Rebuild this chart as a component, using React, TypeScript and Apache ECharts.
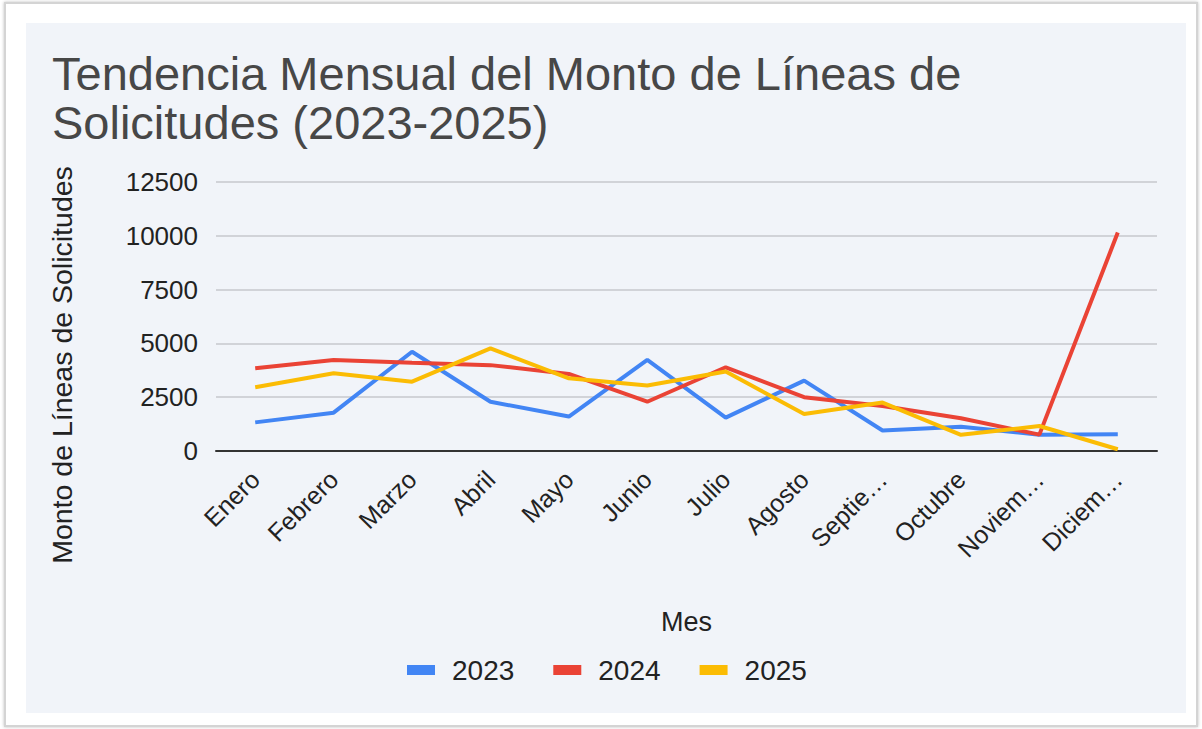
import React, { useEffect, useRef } from "react";
import * as echarts from "echarts";

const months = [
  "Enero", "Febrero", "Marzo", "Abril", "Mayo", "Junio",
  "Julio", "Agosto", "Septiembre", "Octubre", "Noviembre", "Diciembre",
];
const yearNames = ["2023", "2024", "2025"];
const values2023 = [1330, 1780, 4610, 2290, 1600, 4230, 1550, 3270, 950, 1130, 760, 780];
const values2024 = [3840, 4230, 4100, 3990, 3580, 2290, 3890, 2500, 2090, 1520, 760, 10150];
const values2025 = [2960, 3610, 3220, 4770, 3380, 3040, 3690, 1720, 2250, 750, 1160, 80];
const yTicks = { min: 0, max: 12500, interval: 2500 };
const colors = ["#4285F4", "#EA4335", "#FBBC04"];

const FONT = "'Liberation Sans', Arial, Helvetica, sans-serif";

export default function App() {
  const ref = useRef<HTMLDivElement>(null);

  useEffect(() => {
    if (!ref.current) return;
    const chart = echarts.init(ref.current, null, { renderer: "svg" });
    const seriesData = [values2023, values2024, values2025];
    chart.setOption({
      animation: false,
      backgroundColor: "transparent",
      title: {
        text: "Tendencia Mensual del Monto de Líneas de\nSolicitudes (2023-2025)",
        left: 47,
        top: 44,
        textStyle: {
          fontFamily: FONT,
          fontSize: 47,
          fontWeight: "normal",
          color: "#474747",
          lineHeight: 49,
        },
      },
      graphic: [
        {
          type: "text",
          x: 62,
          y: 365,
          rotation: Math.PI / 2,
          style: {
            text: "Monto de Líneas de Solicitudes",
            font: `28.5px ${FONT}`,
            fill: "#222222",
            align: "center",
            verticalAlign: "middle",
          },
        },
      ],
      legend: {
        data: yearNames.map((n) => ({ name: n, icon: "rect" })),
        top: 651,
        left: 402,
        itemWidth: 28,
        itemHeight: 10,
        itemGap: 39,
        itemStyle: { borderWidth: 0 },
        lineStyle: { width: 0, opacity: 0 },
        textStyle: { fontFamily: FONT, fontSize: 28, color: "#222222", padding: [0, 0, 0, 12] },
      },
      grid: { left: 216, right: 45, top: 182, bottom: 278 },
      xAxis: {
        type: "category",
        data: months,
        boundaryGap: true,
        name: "Mes",
        nameLocation: "middle",
        nameGap: 157,
        nameTextStyle: { fontFamily: FONT, fontSize: 27, color: "#222222" },
        axisLine: { lineStyle: { color: "#333333", width: 2 } },
        axisTick: { show: false },
        axisLabel: {
          rotate: 45,
          interval: 0,
          margin: 24,
          fontFamily: FONT,
          fontSize: 25,
          color: "#222222",
          formatter: (v: string) => (v.length > 7 ? v.slice(0, 6) + "…" : v),
        },
      },
      yAxis: {
        type: "value",
        min: yTicks.min,
        max: yTicks.max,
        interval: yTicks.interval,
        axisLine: { show: false },
        axisTick: { show: false },
        axisLabel: {
          margin: 18,
          fontFamily: FONT,
          fontSize: 26,
          color: "#222222",
          formatter: (v: number) => String(v),
        },
        splitLine: { lineStyle: { color: "#c6c8cc", width: 1.5 } },
      },
      series: yearNames.map((name, i) => ({
        name,
        type: "line",
        data: seriesData[i],
        showSymbol: false,
        symbol: "none",
        lineStyle: { color: colors[i], width: 4 },
        itemStyle: { color: colors[i] },
      })),
    });
    return () => chart.dispose();
  }, []);

  return (
    <div style={{ position: "absolute", left: 0, top: 0, width: 1202, height: 729, background: "#ffffff" }}>
      <div
        style={{
          position: "absolute",
          left: 4,
          top: 2,
          width: 1194,
          height: 725,
          border: "2px solid #d4d4d4",
          boxSizing: "border-box",
          boxShadow: "0 0 3px rgba(0,0,0,0.25)",
        }}
      />
      <div
        style={{
          position: "absolute",
          left: 26,
          top: 23,
          width: 1160,
          height: 690,
          background: "#f1f4f9",
        }}
      />
      <div ref={ref} style={{ position: "absolute", left: 0, top: 0, width: 1202, height: 729 }} />
    </div>
  );
}
